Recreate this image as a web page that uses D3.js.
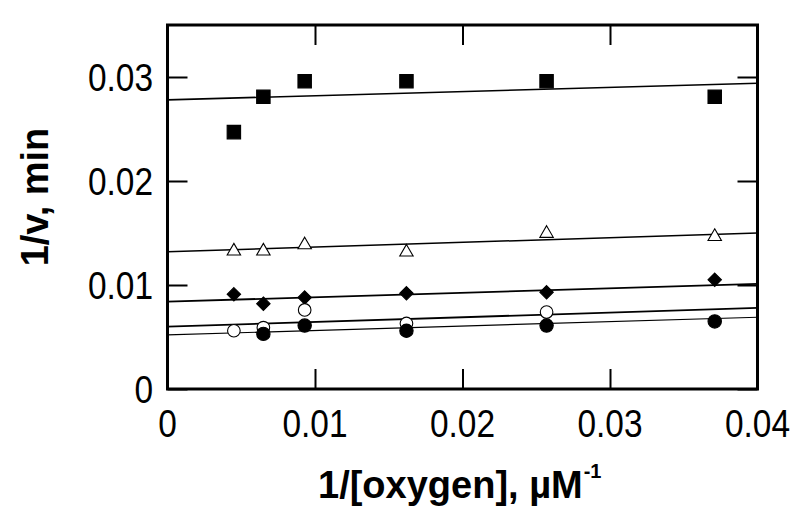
<!DOCTYPE html>
<html>
<head>
<meta charset="utf-8">
<script src="https://cdn.jsdelivr.net/npm/d3@7"></script>
<style>
  body { margin: 0; background: #fff; }
  svg { display: block; }
  text { font-family: "Liberation Sans", Arial, sans-serif; fill: #000; }
</style>
</head>
<body>
<div id="chart"></div>
<script>
// 1/[oxygen] values, uM^-1
const xVals = [0.0045, 0.0065, 0.0093, 0.0162, 0.0257, 0.0371];

// 1/v values per series (null = no point)
const squares   = [0.0247, 0.0281, 0.0296, 0.0296, 0.0296, 0.0281];
const triangles = [0.0134, 0.0134, 0.0140, 0.0133, 0.0151, 0.0148];
const diamonds  = [0.0091, 0.0082, 0.0088, 0.0092, 0.0093, 0.0105];
const openDots  = [0.0056, 0.0059, 0.0076, 0.0063, 0.0074, null];
const fillDots  = [null, 0.0053, 0.0061, 0.0056, 0.0061, 0.0065];

// fitted lines: value at x = 0 and at x = 0.04
const fitSquares   = [0.0278, 0.0294];
const fitTriangles = [0.0132, 0.0150];
const fitDiamonds  = [0.0084, 0.0101];
const fitOpen      = [0.0060, 0.0078];
const fitFilled    = [0.0052, 0.0069];
const fitX = [0, 0.04];

const xTicks = [0, 0.01, 0.02, 0.03, 0.04];
const yTicks = [0, 0.01, 0.02, 0.03];
const xTickLabels = ['0', '0.01', '0.02', '0.03', '0.04'];
const yTickLabels = ['0', '0.01', '0.02', '0.03'];

(() => {
    const width = 800,
          height = 523;
    const left = 167.5, right = 757.5, top = 25, bottom = 389;

    const svg = d3.select('#chart')
        .append('svg')
        .attr('width', width)
        .attr('height', height);

    const x = d3.scaleLinear().domain([0, 0.04]).range([left, right]);
    const y = d3.scaleLinear().domain([0, 0.035]).range([bottom, top]);

    // inside ticks on all four sides, labels drawn separately
    const tickLen = 20;
    svg.append('g')
        .attr('transform', `translate(0,${bottom})`)
        .call(d3.axisBottom(x).tickValues(xTicks).tickSize(-tickLen).tickFormat(''));
    svg.append('g')
        .attr('transform', `translate(0,${top})`)
        .call(d3.axisTop(x).tickValues(xTicks).tickSize(-tickLen).tickFormat(''));
    svg.append('g')
        .attr('transform', `translate(${left},0)`)
        .call(d3.axisLeft(y).tickValues(yTicks).tickSize(-tickLen).tickFormat(''));
    svg.append('g')
        .attr('transform', `translate(${right},0)`)
        .call(d3.axisRight(y).tickValues(yTicks).tickSize(-tickLen).tickFormat(''));

    svg.selectAll('.domain').remove();
    svg.selectAll('.tick line').attr('stroke', '#000').attr('stroke-width', 2);

    // tick labels: slightly narrow, tall digits
    const sx = 0.88;
    svg.append('g').selectAll('text')
        .data(xTicks)
        .enter().append('text')
        .attr('transform', d => `translate(${x(d)},437) scale(${sx},1)`)
        .attr('text-anchor', 'middle')
        .style('font-size', '38px')
        .text((d, i) => xTickLabels[i]);
    svg.append('g').selectAll('text')
        .data(yTicks)
        .enter().append('text')
        .attr('transform', d => `translate(153,${y(d) + 13.5}) scale(${sx},1)`)
        .attr('text-anchor', 'end')
        .style('font-size', '38px')
        .text((d, i) => yTickLabels[i]);

    // fitted lines
    const line = d3.line().x(d => x(d[0])).y(d => y(d[1]));
    const fits = [
        { v: fitSquares, w: 1.6 },
        { v: fitTriangles, w: 1.5 },
        { v: fitDiamonds, w: 1.8 },
        { v: fitOpen, w: 1.8 },
        { v: fitFilled, w: 1.2 }
    ];
    svg.append('g').selectAll('path')
        .data(fits)
        .enter().append('path')
        .attr('d', f => line(fitX.map((xv, i) => [xv, f.v[i]])))
        .attr('fill', 'none')
        .attr('stroke', '#000')
        .attr('stroke-width', f => f.w);

    // diamond with equal width and height
    const squareDiamond = {
        draw(context, size) {
            const r = Math.sqrt(size / 2);
            context.moveTo(0, -r);
            context.lineTo(r, 0);
            context.lineTo(0, r);
            context.lineTo(-r, 0);
            context.closePath();
        }
    };

    const series = [
        { v: triangles, type: d3.symbolTriangle, size: 78, fill: '#fff', dy: 1.5 },
        { v: squares, type: d3.symbolSquare, size: 180, fill: '#000', dy: 0 },
        { v: diamonds, type: squareDiamond, size: 90, fill: '#000', dy: 0 },
        { v: openDots, type: d3.symbolCircle, size: 125, fill: '#fff', dy: 0 },
        { v: fillDots, type: d3.symbolCircle, size: 140, fill: '#000', dy: 0 }
    ];

    series.forEach(s => {
        const pts = xVals.map((xv, i) => [xv, s.v[i]]).filter(p => p[1] !== null);
        svg.append('g').selectAll('path')
            .data(pts)
            .enter().append('path')
            .attr('transform', d => `translate(${x(d[0])},${y(d[1]) + s.dy})`)
            .attr('d', d3.symbol().type(s.type).size(s.size))
            .attr('fill', s.fill)
            .attr('stroke', '#000')
            .attr('stroke-width', 1.1);
    });

    // frame
    svg.append('rect')
        .attr('x', left)
        .attr('y', top)
        .attr('width', right - left)
        .attr('height', bottom - top)
        .attr('fill', 'none')
        .attr('stroke', '#000')
        .attr('stroke-width', 3);

    // axis titles
    svg.append('text')
        .attr('transform', `translate(48,${(top + bottom) / 2 - 10}) rotate(-90)`)
        .attr('text-anchor', 'middle')
        .style('font-size', '38px')
        .style('font-weight', 'bold')
        .text('1/v, min');

    const xt = svg.append('text')
        .attr('x', 318)
        .attr('y', 498)
        .style('font-size', '38px')
        .style('font-weight', 'bold')
        .text('1/[oxygen], µM');
    const xtEnd = 318 + xt.node().getComputedTextLength();
    svg.append('text')
        .attr('x', xtEnd + 1)
        .attr('y', 478)
        .style('font-size', '20px')
        .style('font-weight', 'bold')
        .text('-1');
})();
</script>
</body>
</html>
